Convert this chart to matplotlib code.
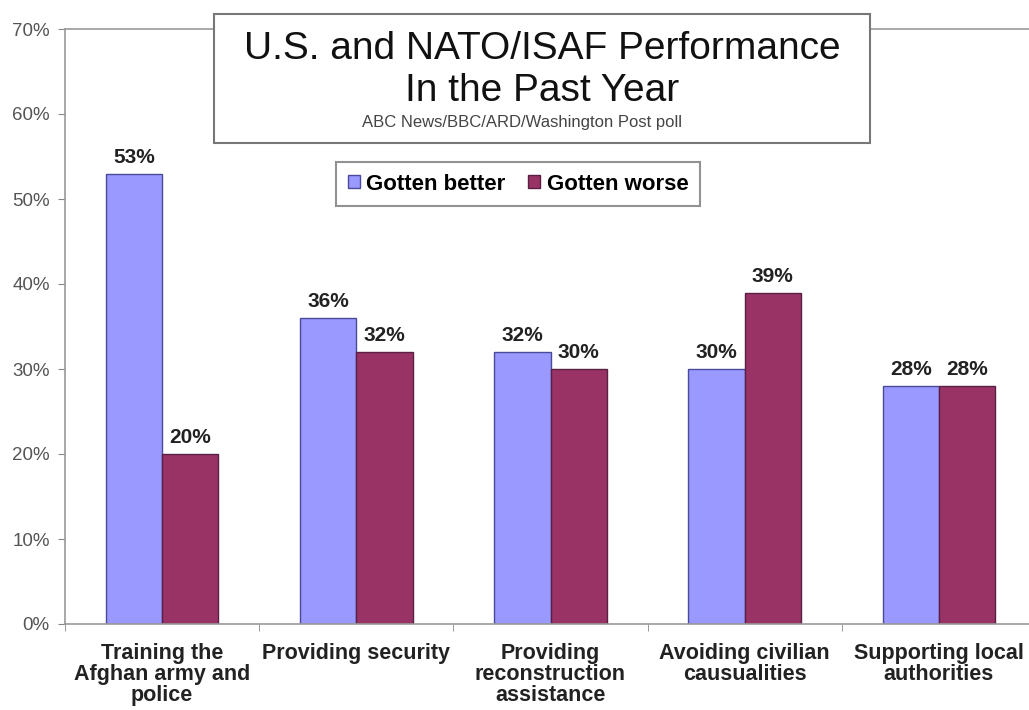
import numpy as np
import matplotlib.pyplot as plt
from matplotlib.patches import Rectangle

plt.rcParams['font.family'] = ['Liberation Sans', 'DejaVu Sans']

categories = ['Training the\nAfghan army and\npolice', 'Providing security',
              'Providing\nreconstruction\nassistance', 'Avoiding civilian\ncausualities',
              'Supporting local\nauthorities']
better = [53, 36, 32, 30, 28]
worse = [20, 32, 30, 39, 28]
series = ['Gotten better', 'Gotten worse']
yticks = [0, 10, 20, 30, 40, 50, 60, 70]

W, H = 1029, 710
fig = plt.figure(figsize=(W / 100, H / 100), dpi=100)
# plot area runs a bit past the right edge
ax = fig.add_axes([65 / W, (H - 624) / H, (1036 - 65) / W, 595 / H])

x = np.arange(len(categories))
bw = 0.29
b1 = ax.bar(x - bw / 2, better, bw, color='#9999ff', edgecolor='#4a4a99', linewidth=1, label=series[0])
b2 = ax.bar(x + bw / 2, worse, bw, color='#993366', edgecolor='#5a1f45', linewidth=1, label=series[1])

for bars, vals in ((b1, better), (b2, worse)):
    for r, v in zip(bars, vals):
        ax.text(r.get_x() + r.get_width() / 2, v + 0.8, f'{v}%', ha='center', va='bottom',
                fontsize=15, fontweight='bold', color='#222222')

ax.set_xlim(-0.5, 4.5)
ax.set_ylim(0, 70)
ax.set_yticks(yticks)
ax.set_yticklabels([f'{t}%' for t in yticks], fontsize=13.5, color='#555555')
ax.tick_params(axis='y', length=5, color='#888888', pad=6)

ax.set_xticks(x)
ax.set_xticklabels(categories, fontsize=15.5, fontweight='bold', color='#222222', linespacing=1.0)
ax.tick_params(axis='x', which='major', length=0, pad=14)
ax.set_xticks(np.arange(-0.5, 5, 1), minor=True)
ax.tick_params(axis='x', which='minor', length=5, color='#888888')

for s in ('left', 'bottom', 'top'):
    ax.spines[s].set_color('#999999')
    ax.spines[s].set_linewidth(1.2)
ax.spines['right'].set_visible(False)

# title box
fig.patches.append(Rectangle((214 / W, 1 - 143 / H), (870 - 214) / W, (143 - 14) / H,
                             transform=fig.transFigure, facecolor='white',
                             edgecolor='#777777', linewidth=1.5, zorder=5))
fig.text(542 / W, 1 - 70 / H, 'U.S. and NATO/ISAF Performance\nIn the Past Year', ha='center', va='center',
         fontsize=28, color='#111111', zorder=6, linespacing=1.2)
fig.text(522 / W, 1 - 123 / H, 'ABC News/BBC/ARD/Washington Post poll', ha='center', va='center',
         fontsize=12, color='#444444', zorder=6)

leg = ax.legend(loc='center', bbox_to_anchor=(518 / W, 1 - 184 / H), bbox_transform=fig.transFigure,
                ncol=2, fancybox=False, edgecolor='#777777', handlelength=0.55, handleheight=0.55,
                handletextpad=0.3, columnspacing=1.0, borderpad=0.5,
                prop={'size': 16, 'weight': 'bold'})
leg.get_frame().set_linewidth(1.5)

fig.savefig('out.png', dpi=100)
